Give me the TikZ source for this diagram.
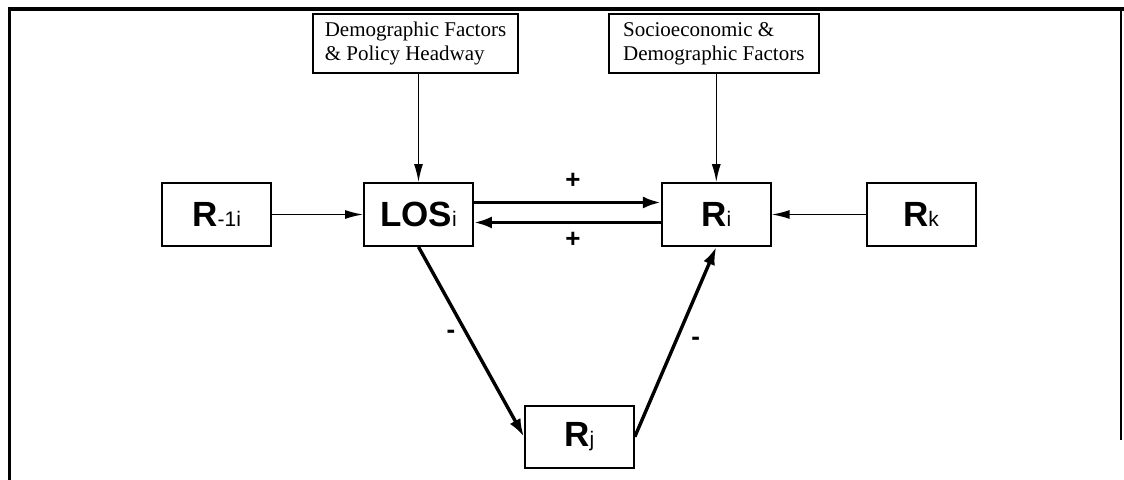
\documentclass[tikz,border=0pt]{standalone}
\usepackage{fontspec}
\setmainfont{Liberation Serif}
\newfontfamily\varfont{Liberation Sans}
\usepackage{tikz}
\usetikzlibrary{positioning}
\usetikzlibrary{arrows.meta}
\newcommand*{\varsub}[1]{{\mdseries\fontsize{10.5}{12}\selectfont #1}}
\tikzstyle{varbox}=[rectangle, draw, black, line width=0.9pt, minimum width=54.5pt, minimum height=31.5pt, inner sep=0pt, font=\varfont\bfseries\fontsize{17.5}{20}\selectfont]
\tikzstyle{factorbox}=[rectangle, draw, black, line width=0.9pt, minimum height=29.5pt, align=left, inner xsep=5pt, font=\fontsize{10.5}{12}\selectfont]
\tikzstyle{thinarrow}=[line width=0.75pt, -{Latex[length=9pt, width=4.5pt]}]
\tikzstyle{thickarrow}=[line width=1.7pt, -{Latex[length=9pt, width=6pt]}]
\tikzstyle{signlabel}=[font=\varfont\bfseries\fontsize{13}{15}\selectfont, inner sep=0pt]

\begin{document}
\begin{tikzpicture}
    \useasboundingbox (-209.25pt, -132.75pt) rectangle (352.75pt, 107.25pt);
    % frame, open at the bottom
    \draw[line width=2pt] (-205pt, 102.75pt) -- (352.75pt, 102.75pt);
    \draw[line width=1.5pt] (-204.25pt, 103.75pt) -- (-204.25pt, -132.75pt);
    \draw[line width=1.2pt] (351.25pt, 102.75pt) -- (351.25pt, -112.75pt);
    % middle row
    \node[varbox] (los) at (0, 0) {LOS\varsub{i}};
    \node[varbox, left=45.5pt of los] (rprev) {R\varsub{-1i}};
    \node[varbox, right=93.5pt of los] (ri) {R\varsub{i}};
    \node[varbox, right=47pt of ri] (rk) {R\varsub{k}};
    \node[varbox, minimum height=31pt, anchor=north west, below right=79pt and 52.75pt of los.south] (rj) {R\varsub{j}};
    % factor boxes
    \node[factorbox, minimum width=102.5pt, above=54pt of los, xshift=-1.5pt] (demo) {Demographic Factors\\\& Policy Headway};
    \node[factorbox, minimum width=105pt, above=54pt of ri, xshift=-1.25pt] (socio) {Socioeconomic \&\\Demographic Factors};
    \draw[thinarrow] (los.north |- demo.south) -- (los.north);
    \draw[thinarrow] (ri.north |- socio.south) -- (ri.north);
    \draw[thinarrow] (rprev) -- (los);
    \draw[thinarrow] (rk) -- (ri);
    \draw[thickarrow] ([yshift=6pt]los.east) -- node[signlabel, above=6pt, pos=0.53] {+} ([yshift=6pt]ri.west);
    \draw[thickarrow] ([yshift=-4pt]ri.west) -- node[signlabel, below=4pt, pos=0.47] {+} ([yshift=-4pt]los.east);
    \draw[thickarrow] (los.south) -- node[signlabel, left=5pt, pos=0.46] {-} (rj.west);
    \draw[thickarrow] (rj.east) -- node[signlabel, right=7pt] {-} (ri.south);
\end{tikzpicture}
\end{document}
